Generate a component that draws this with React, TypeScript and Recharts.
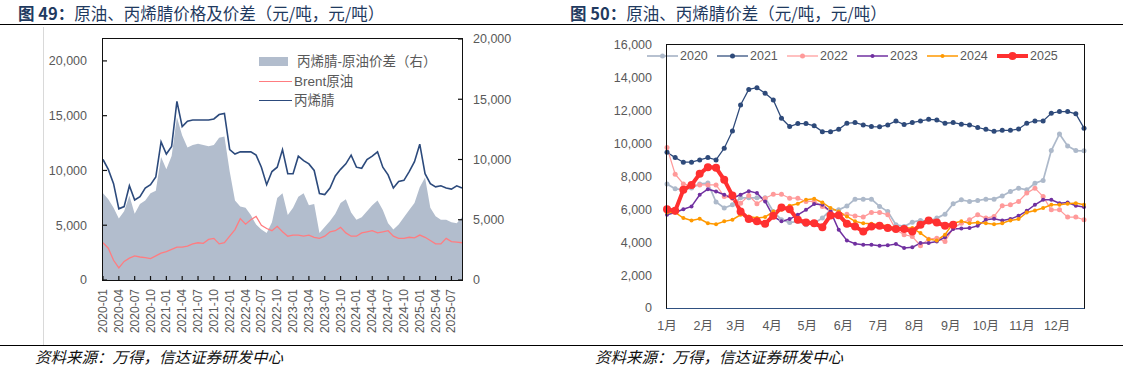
import React from "react";
import { ComposedChart, LineChart, Area, Line, XAxis, YAxis, Legend } from "recharts";

// ---- 图49 data (monthly) ----
const months = [
  "2020-01", "2020-02", "2020-03", "2020-04", "2020-05", "2020-06", "2020-07", "2020-08", "2020-09", "2020-10", "2020-11", "2020-12",
  "2021-01", "2021-02", "2021-03", "2021-04", "2021-05", "2021-06", "2021-07", "2021-08", "2021-09", "2021-10", "2021-11", "2021-12",
  "2022-01", "2022-02", "2022-03", "2022-04", "2022-05", "2022-06", "2022-07", "2022-08", "2022-09", "2022-10", "2022-11", "2022-12",
  "2023-01", "2023-02", "2023-03", "2023-04", "2023-05", "2023-06", "2023-07", "2023-08", "2023-09", "2023-10", "2023-11", "2023-12",
  "2024-01", "2024-02", "2024-03", "2024-04", "2024-05", "2024-06", "2024-07", "2024-08", "2024-09", "2024-10", "2024-11", "2024-12",
  "2025-01", "2025-02", "2025-03", "2025-04", "2025-05", "2025-06", "2025-07", "2025-08", "2025-09",
];
const acrylonitrile = [
  11000, 10100, 8800, 6500, 6700, 8600, 7300, 7600, 8400, 8700, 9400, 12600,
  11500, 12200, 16300, 14000, 14500, 14600, 14600, 14600, 14600, 14700, 15100, 15200,
  11900, 11500, 11700, 11700, 11700, 11400, 10300, 8700, 9900, 10300, 11900, 9700,
  9700, 11300, 10900, 10600, 10000, 7900, 7800, 8400, 9500, 10100, 10600, 11400,
  10300, 10200, 11000, 11300, 11700, 10300, 9600, 8400, 9000, 9100, 9900, 10800,
  12400, 9700, 8800, 8500, 8600, 8400, 8300, 8600, 8400,
];
const brent = [
  3400, 2900, 1800, 1100, 1700, 2000, 2200, 2100, 2050, 1950, 2200, 2450,
  2600, 2800, 3000, 3000, 3100, 3300, 3400, 3350, 3700, 3800, 3300, 3400,
  4000, 4600, 5600, 5100, 5500, 5800, 5000, 4700, 4500, 4900, 4400, 4000,
  4100, 4100, 4000, 4100, 3900, 3800, 4000, 4400, 4500, 4800, 4300, 4000,
  4000, 4300, 4400, 4500, 4300, 4400, 4500, 4000, 3800, 3800, 3900, 3850,
  4100, 3900, 3600, 3300, 3300, 3800, 3500, 3450, 3400,
];
const spread = [
  7200, 6700, 6000, 5100, 5700, 7000, 5500, 6300, 6600, 7200, 7400, 10200,
  9200, 10300, 13500, 12000, 11000, 11200, 11300, 11200, 11100, 11200, 11800, 11900,
  9000, 6600, 6100, 6000, 5400, 4600, 4200, 3900, 4800, 6800, 7200, 5400,
  6000, 6900, 7200, 6200, 6300, 3900, 4400, 4900, 5500, 6400, 6700, 5600,
  5000, 5200, 5700, 6200, 6600, 5800, 4700, 4200, 4600, 5200, 5800, 6400,
  7700, 8500, 6000, 5300, 5000, 5000, 4800, 4700, 5200,
];

// ---- 图50 data (weekly) ----
const weeks = [
  1, 2, 3, 4, 5, 6, 7, 8, 9, 10, 11, 12, 13, 14, 15, 16, 17, 18, 19, 20, 21, 22, 23, 24, 25, 26,
  27, 28, 29, 30, 31, 32, 33, 34, 35, 36, 37, 38, 39, 40, 41, 42, 43, 44, 45, 46, 47, 48, 49, 50, 51, 52,
];
const y2020 = [
  7550, 7250, 7200, 7300, 7550, 7600, 6450, 6080, 6280, 6700, 6700, 6700, 6700, 5870, 5370, 5200, 5270, 5060, 5160, 5470, 5970, 5970, 6200, 6620, 6620, 6620,
  6180, 5870, 5060, 4960, 5220, 5330, 5270, 5470, 5710, 6340, 6580, 6480, 6540, 6620, 6620, 6820, 7090, 7290, 7190, 7590, 7760, 9580, 10590, 9860, 9580, 9560,
];
const y2021 = [
  9480, 9150, 8870, 8870, 9010, 9150, 9010, 9720, 10770, 12350, 13300, 13400, 13060, 12660, 11540, 11040, 11220, 11220, 11080, 10730, 10730, 10870, 11240, 11280, 11140, 11040,
  11020, 11140, 11380, 11160, 11280, 11380, 11480, 11440, 11240, 11280, 11180, 11140, 10980, 10870, 10750, 10810, 10810, 10890, 11240, 11380, 11380, 11850, 11950, 11950, 11810, 10940,
];
const y2022 = [
  9760, 8140, 7550, 7430, 7490, 7490, 7490, 6780, 6680, 6380, 6840, 6340, 6680, 6920, 6920, 6680, 6680, 6480, 6480, 6180, 5870, 5570, 5700, 5600, 5530, 5810,
  5810, 5670, 4760, 4460, 4350, 3790, 4190, 4250, 4050, 4860, 5160, 5370, 5670, 5470, 5570, 6220, 6280, 6480, 6990, 7290, 6780, 5970, 5970, 5530, 5530, 5370,
];
const y2023 = [
  5670, 5810, 6010, 6180, 6890, 7230, 7090, 6890, 6680, 6890, 7110, 6990, 6480, 5570, 5270, 5410, 5670, 5970, 6320, 6280, 5870, 4760, 4110, 3910, 3850, 3850,
  3790, 3810, 3890, 3650, 3690, 3950, 3950, 4050, 4310, 4800, 4840, 4860, 5000, 5370, 5430, 5330, 5410, 5610, 5910, 6280, 6580, 6580, 6380, 6420, 6220, 6140,
];
const y2024 = [
  5810, 5810, 5470, 5330, 5430, 5160, 5100, 5270, 5370, 5670, 5570, 5470, 5530, 5870, 5970, 6220, 6340, 6580, 6640, 6420, 6080, 5870, 5570, 5270, 5160, 5120,
  5060, 5000, 4860, 4900, 4860, 4560, 4190, 4110, 4460, 5160, 5270, 5160, 5200, 5160, 5100, 5160, 5330, 5410, 5810, 5930, 6080, 6280, 6280, 6340, 6380, 6280,
];
const y2025 = [
  6010, 5910, 7190, 7490, 8160, 8570, 8530, 7800, 6840, 5870, 5410, 5270, 5120, 5610, 6120, 6010, 5370, 5200, 5160, 4920, 5630, 5650, 5130, 4960, 4660, 4960,
  5000, 4860, 4800, 4800, 4660, 5060, 5330, 5200, 5000, 5060,
];
const yearNames = ["2020", "2021", "2022", "2023", "2024", "2025"];
const monthLabels = ["1月", "2月", "3月", "4月", "5月", "6月", "7月", "8月", "9月", "10月", "11月", "12月"];
const monthStartDay = [0, 31, 59, 90, 120, 151, 181, 212, 243, 273, 304, 334];

const FONT = "'Liberation Sans', Arial, 'Noto Sans CJK SC', sans-serif";
const CJK = "'Noto Sans CJK SC', sans-serif";
const GREY = "#595959";
const AREA = "#b2bdcd";
const NAVY = "#2c4a7c";
const SALMON = "#ff7c80";

const yearStyles = [
  { color: "#adb9ca", width: 1.75, r: 2.5 },
  { color: "#2e4a7a", width: 1.25, r: 2.5 },
  { color: "#ff9a9a", width: 1.25, r: 2.5 },
  { color: "#7030a0", width: 1.5, r: 2 },
  { color: "#ff9900", width: 1.5, r: 2 },
  { color: "#ff3030", width: 4, r: 4 },
];

const leftData = months.map((m, i) => ({
  month: m,
  acn: acrylonitrile[i],
  brent: brent[i],
  spread: spread[i],
}));

const yearSeries = [y2020, y2021, y2022, y2023, y2024, y2025];
const rightData = weeks.map((w, i) => {
  const row: Record<string, number | undefined> = { week: w };
  yearNames.forEach((y, k) => {
    row["y" + y] = yearSeries[k][i];
  });
  return row;
});
const monthTicks = monthStartDay.map((d) => 1 + d / 7);

const fmt = (v: number) => v.toLocaleString("en-US");

const VerticalTick = (props: any) => {
  const { x, y, payload } = props;
  const bx = x + 4;
  return (
    <text x={bx} y={y} transform={`rotate(-90 ${bx} ${y})`} textAnchor="end" fill={GREY} fontSize={12} fontFamily={FONT}>
      {payload.value}
    </text>
  );
};

const LeftLegend = () => (
  <div style={{ fontFamily: FONT, fontSize: 13.5, color: GREY, lineHeight: "19.5px", whiteSpace: "nowrap" }}>
    <div style={{ display: "flex", alignItems: "center" }}>
      <span style={{ display: "inline-block", width: 29, height: 9, background: AREA, marginRight: 9 }} />
      丙烯腈-原油价差（右）
    </div>
    <div style={{ display: "flex", alignItems: "center" }}>
      <span style={{ display: "inline-block", width: 33, borderTop: `1.5px solid ${SALMON}`, marginRight: 2 }} />
      Brent原油
    </div>
    <div style={{ display: "flex", alignItems: "center" }}>
      <span style={{ display: "inline-block", width: 33, borderTop: `1.5px solid ${NAVY}`, marginRight: 2 }} />
      丙烯腈
    </div>
  </div>
);

const RightLegend = () => (
  <div style={{ display: "flex", fontFamily: FONT, fontSize: 12.5, color: GREY, lineHeight: "16px", whiteSpace: "nowrap" }}>
    {yearNames.map((y, k) => (
      <div key={y} style={{ width: 70, display: "flex", alignItems: "center" }}>
        <svg width={31} height={12} style={{ marginRight: 2 }}>
          <line x1={0} y1={6} x2={31} y2={6} stroke={yearStyles[k].color} strokeWidth={yearStyles[k].width} />
          <circle cx={15.5} cy={6} r={yearStyles[k].r} fill={yearStyles[k].color} />
        </svg>
        {y}
      </div>
    ))}
  </div>
);

const frame = (left: number, top: number, w: number, h: number, bottomColor = "#111") => (
  <div
    style={{
      position: "absolute",
      left: left - 0.75,
      top: top - 0.75,
      width: w + 1.5,
      height: h + 1.5,
      boxSizing: "border-box",
      border: "1.5px solid #111",
      borderBottomColor: bottomColor,
      pointerEvents: "none",
    }}
  />
);

const titleStyle: React.CSSProperties = {
  position: "absolute",
  top: 3,
  fontFamily: CJK,
  fontSize: 16.5,
  lineHeight: "20px",
  color: "#1f3a60",
  whiteSpace: "nowrap",
};

const sourceStyle: React.CSSProperties = {
  position: "absolute",
  top: 346,
  fontFamily: CJK,
  fontStyle: "italic",
  fontSize: 15.5,
  lineHeight: "20px",
  color: "#111",
  whiteSpace: "nowrap",
};

export default function App() {
  return (
    <div style={{ position: "absolute", left: 0, top: 0, width: 1123, height: 369, background: "#fff", overflow: "hidden", fontFamily: FONT }}>
      {/* titles */}
      <div style={{ ...titleStyle, left: 18 }}>
        <b>图 49：</b>原油、丙烯腈价格及价差（元/吨，元/吨）
      </div>
      <div style={{ ...titleStyle, left: 570 }}>
        <b>图 50：</b>原油、丙烯腈价差（元/吨，元/吨）
      </div>
      <div style={{ position: "absolute", left: 0, top: 24, width: 1123, borderTop: "1.5px solid #000" }} />

      {/* left chart */}
      <div style={{ position: "absolute", left: 43, top: 27, width: 0, height: 318, borderLeft: "1px solid #d9d9d9" }} />
      <div style={{ position: "absolute", left: 0, top: 0, width: 520, height: 345 }}>
        <ComposedChart width={520} height={345} data={leftData} margin={{ top: 39, right: 8, bottom: 5, left: 43 }}>
          <XAxis
            dataKey="month"
            interval={2}
            height={60}
            tickSize={-4}
            tickMargin={13}
            tick={<VerticalTick />}
            axisLine={false}
            tickLine={{ stroke: "#111", strokeWidth: 1.2 }}
          />
          <YAxis
            yAxisId="left"
            domain={[0, 22000]}
            ticks={[0, 5000, 10000, 15000, 20000]}
            width={60}
            tickSize={-4}
            tickMargin={20}
            axisLine={false}
            tickLine={{ stroke: "#111", strokeWidth: 1.2 }}
            tickFormatter={fmt}
            tick={{ fill: GREY, fontSize: 12.5, fontFamily: FONT }}
          />
          <YAxis
            yAxisId="right"
            orientation="right"
            domain={[0, 20000]}
            ticks={[0, 5000, 10000, 15000, 20000]}
            width={50}
            tickSize={-4}
            tickMargin={15}
            axisLine={false}
            tickLine={{ stroke: "#111", strokeWidth: 1.2 }}
            tickFormatter={fmt}
            tick={{ fill: GREY, fontSize: 12.5, fontFamily: FONT, textAnchor: "start" }}
          />
          <Legend verticalAlign="middle" align="center" content={<LeftLegend />} wrapperStyle={{ left: 259, top: 52, width: "auto", height: "auto" }} />
          <Area yAxisId="right" type="linear" dataKey="spread" fill={AREA} fillOpacity={1} stroke="none" isAnimationActive={false} />
          <Line yAxisId="left" type="linear" dataKey="brent" stroke={SALMON} strokeWidth={1.3} dot={false} isAnimationActive={false} />
          <Line yAxisId="left" type="linear" dataKey="acn" stroke={NAVY} strokeWidth={1.6} dot={false} isAnimationActive={false} />
        </ComposedChart>
        {frame(103, 39, 359, 241)}
      </div>

      {/* right chart */}
      <div style={{ position: "absolute", left: 560, top: 0, width: 540, height: 345 }}>
        <LineChart width={540} height={345} data={rightData} margin={{ top: 45, right: 16, bottom: 7, left: 47 }}>
          <XAxis
            dataKey="week"
            type="number"
            domain={[1, 52]}
            ticks={monthTicks}
            interval={0}
            height={30}
            tickSize={0}
            tickMargin={13}
            axisLine={false}
            tickLine={false}
            tickFormatter={(v: number) => monthLabels[monthTicks.indexOf(v)] ?? ""}
            tick={{ fill: GREY, fontSize: 12.5, fontFamily: FONT }}
          />
          <YAxis
            domain={[0, 16000]}
            ticks={[0, 2000, 4000, 6000, 8000, 10000, 12000, 14000, 16000]}
            width={60}
            tickSize={0}
            tickMargin={15}
            axisLine={false}
            tickLine={false}
            tickFormatter={fmt}
            tick={{ fill: GREY, fontSize: 12.5, fontFamily: FONT }}
          />
          <Legend verticalAlign="middle" align="center" content={<RightLegend />} wrapperStyle={{ left: 87, top: 48, width: "auto", height: "auto" }} />
          {yearNames.map((y, k) => (
            <Line
              key={y}
              type="linear"
              dataKey={"y" + y}
              stroke={yearStyles[k].color}
              strokeWidth={yearStyles[k].width}
              dot={{ r: yearStyles[k].r, fill: yearStyles[k].color, stroke: "none" }}
              activeDot={false}
              isAnimationActive={false}
            />
          ))}
        </LineChart>
        {frame(107, 45, 417, 263, "#2f5080")}
      </div>

      {/* sources */}
      <div style={{ position: "absolute", left: 0, top: 345, width: 1123, borderTop: "1.2px solid #000" }} />
      <div style={{ ...sourceStyle, left: 35 }}>资料来源：万得，信达证券研发中心</div>
      <div style={{ ...sourceStyle, left: 595 }}>资料来源：万得，信达证券研发中心</div>
    </div>
  );
}
